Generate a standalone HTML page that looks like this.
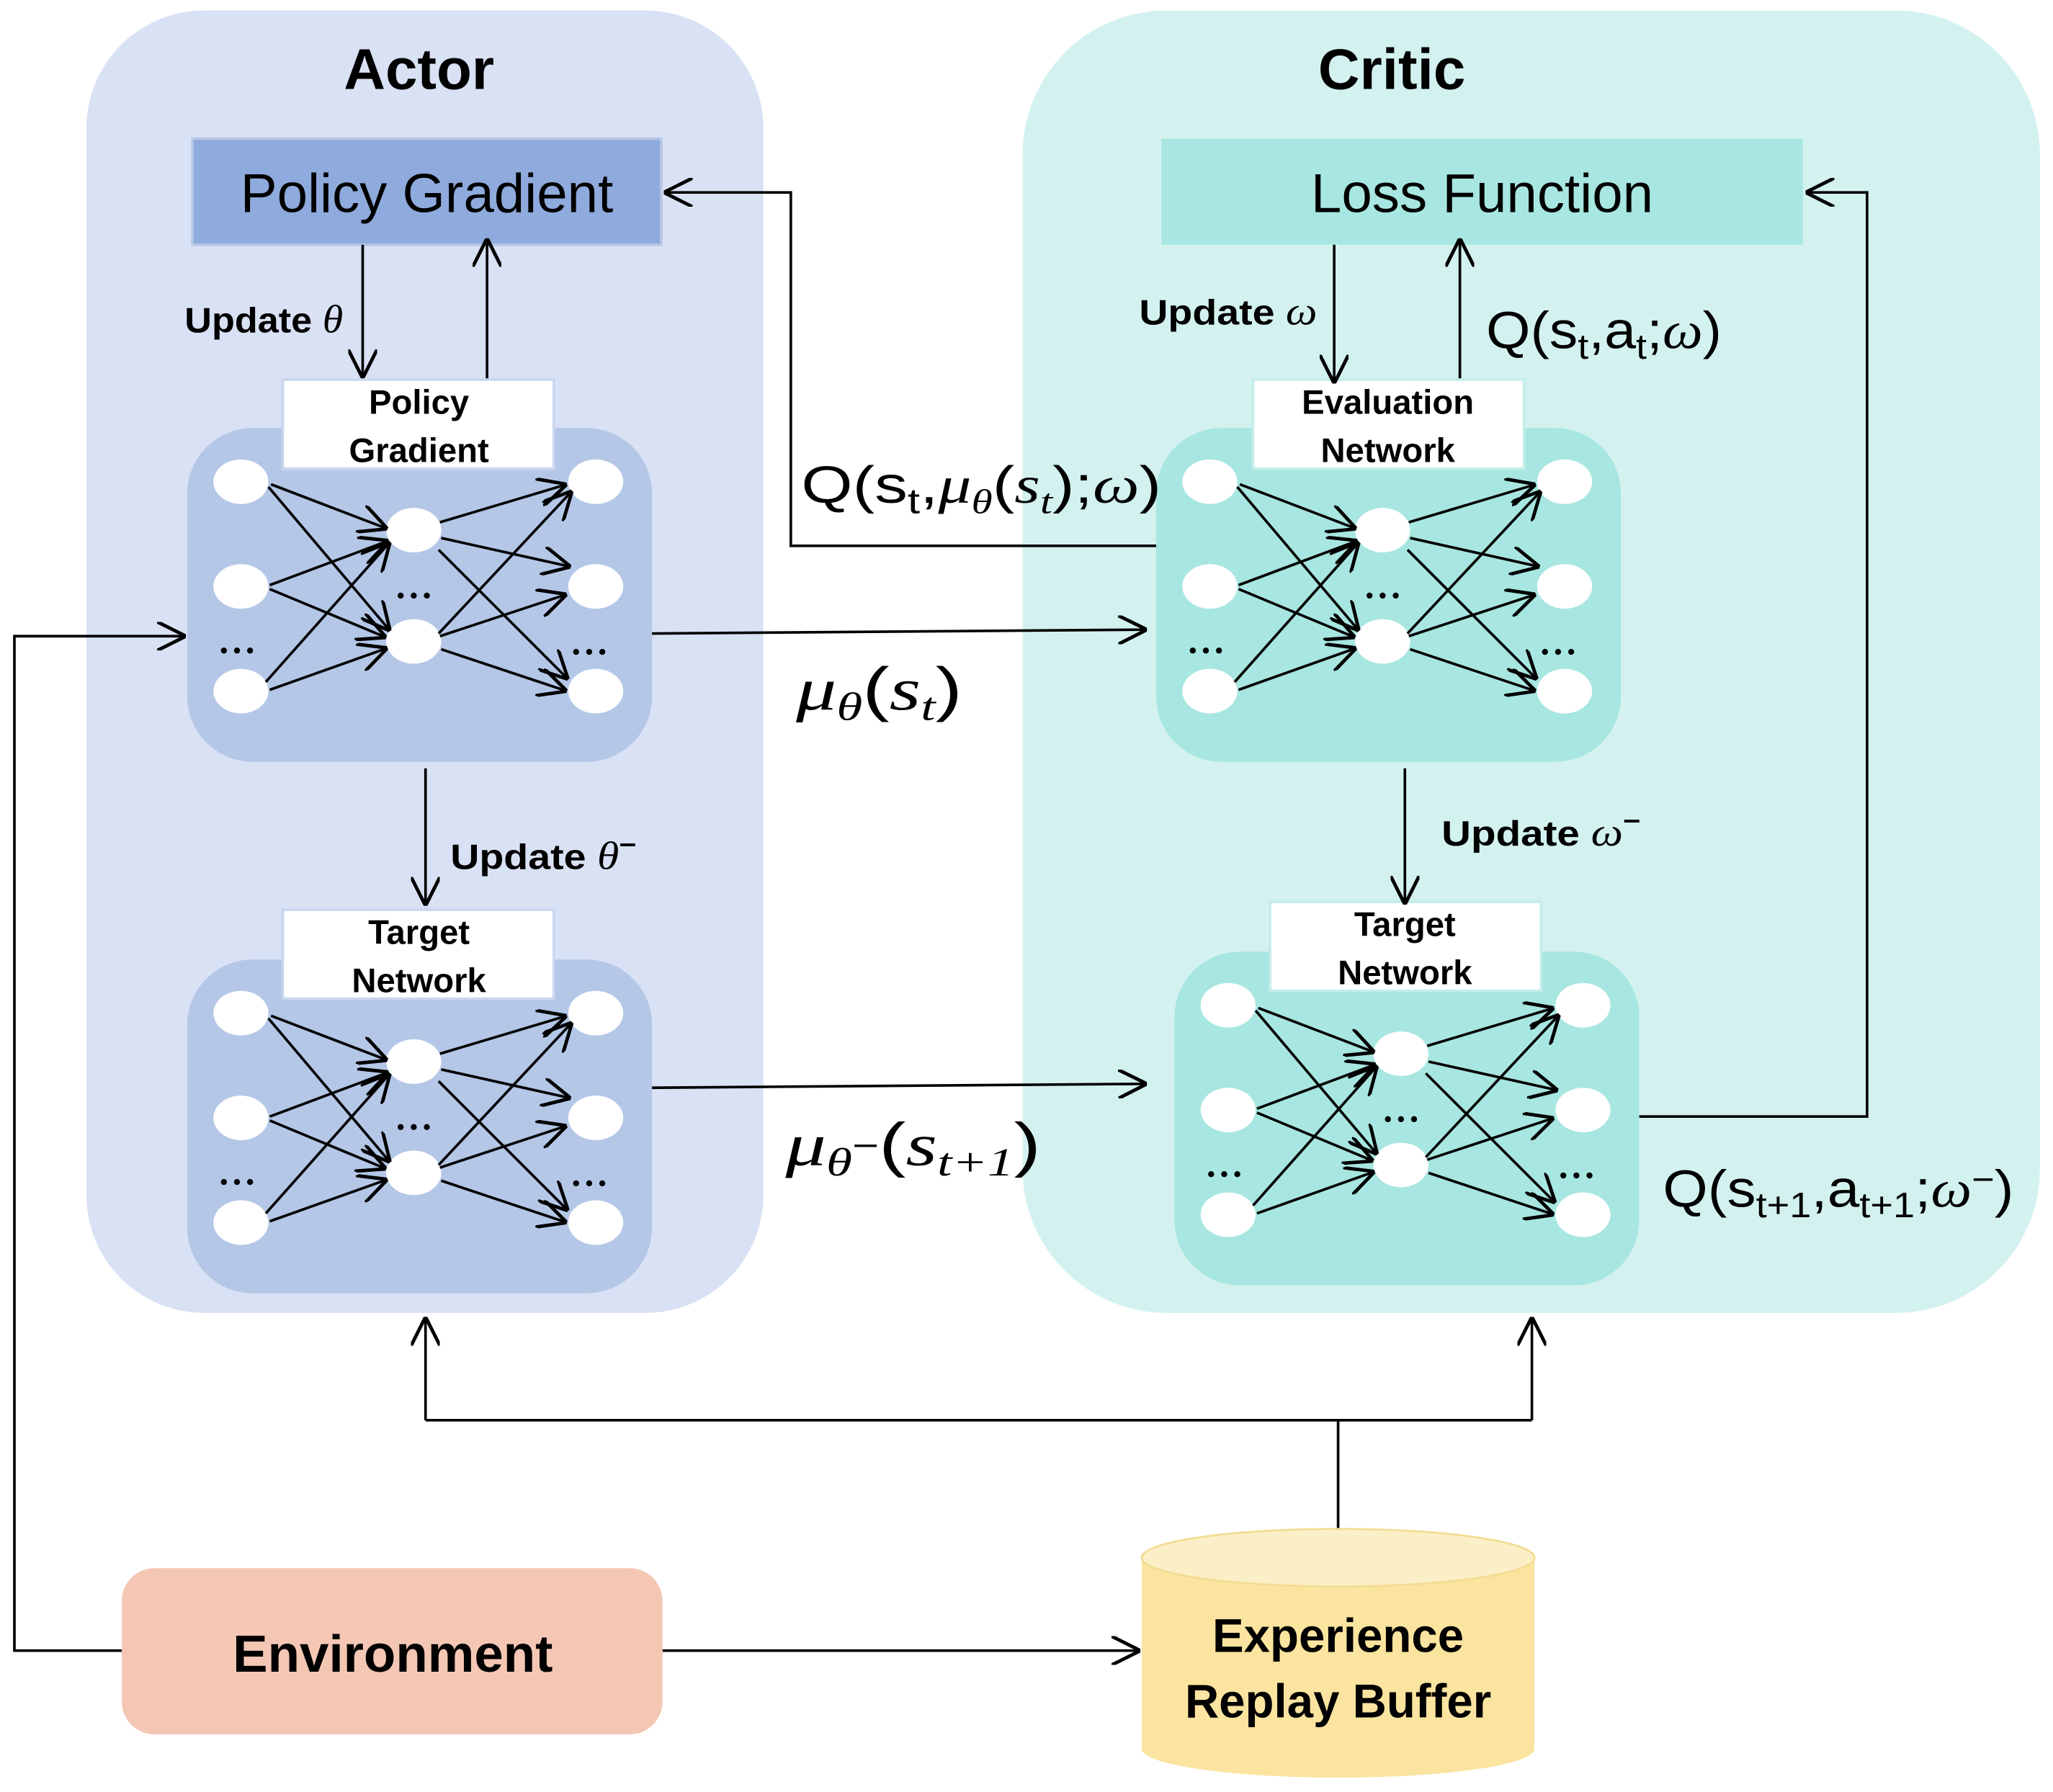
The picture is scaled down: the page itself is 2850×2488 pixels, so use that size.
<!DOCTYPE html>
<html><head><meta charset="utf-8"><style>
html,body{margin:0;padding:0;background:#fff}
svg{display:block}
text{font-family:"Liberation Sans",sans-serif}
.m{font-family:"Liberation Serif",serif;font-style:italic}
</style></head><body>
<svg width="2850" height="2488" viewBox="0 0 1568 1369" preserveAspectRatio="none" xmlns="http://www.w3.org/2000/svg">
<defs>
<marker id="b" markerWidth="22" markerHeight="22" refX="10" refY="5" orient="auto" markerUnits="userSpaceOnUse" viewBox="0 0 10 10">
<path d="M0,0 L10,5 L0,10" fill="none" stroke="#000" stroke-width="1.2"/></marker>
<g id="net">
<g fill="#fff">
<ellipse cx="184" cy="368" rx="21" ry="17"/><ellipse cx="184" cy="448" rx="21" ry="17"/><ellipse cx="184" cy="528" rx="21" ry="17"/>
<ellipse cx="316" cy="405" rx="21" ry="17"/><ellipse cx="316" cy="490" rx="21" ry="17"/>
<ellipse cx="455" cy="368" rx="21" ry="17"/><ellipse cx="455" cy="448" rx="21" ry="17"/><ellipse cx="455" cy="528" rx="21" ry="17"/>
</g>
<g stroke="#000" stroke-width="2" marker-end="url(#b)">
<line x1="207" y1="370" x2="296" y2="404"/><line x1="205" y1="372" x2="298" y2="482"/>
<line x1="206" y1="447" x2="297" y2="413"/><line x1="206" y1="450" x2="295" y2="487"/>
<line x1="203" y1="521" x2="298" y2="414"/><line x1="206" y1="527" x2="296" y2="495"/>
<line x1="336" y1="399" x2="433" y2="370"/><line x1="337" y1="411" x2="436" y2="433"/>
<line x1="335" y1="420" x2="434" y2="519"/><line x1="335" y1="484" x2="437" y2="375"/>
<line x1="336" y1="486" x2="433" y2="454"/><line x1="337" y1="496" x2="433" y2="528"/>
</g>
<g fill="#000"><circle cx="171" cy="497" r="2.3"/><circle cx="181" cy="497" r="2.3"/><circle cx="191" cy="497" r="2.3"/>
<circle cx="306" cy="455" r="2.3"/><circle cx="316" cy="455" r="2.3"/><circle cx="326" cy="455" r="2.3"/>
<circle cx="440" cy="498" r="2.3"/><circle cx="450" cy="498" r="2.3"/><circle cx="460" cy="498" r="2.3"/></g>
</g>
</defs>
<rect width="1568" height="1369" fill="#fff"/>
<rect x="66" y="8" width="517" height="995" rx="90" fill="#d9e1f4"/>
<rect x="781" y="8" width="777" height="995" rx="110" fill="#d3f2ef"/>
<text x="320" y="68" font-size="44" font-weight="bold" text-anchor="middle">Actor</text>
<text x="1063" y="68" font-size="44" font-weight="bold" text-anchor="middle">Critic</text>
<rect x="147" y="106" width="358" height="81" fill="#8faadc" stroke="#b4c7e7" stroke-width="2"/>
<text x="326" y="162" font-size="42" text-anchor="middle">Policy Gradient</text>
<rect x="887" y="106" width="490" height="81" fill="#a8e6e1"/>
<text x="1132" y="162" font-size="42" text-anchor="middle">Loss Function</text>
<rect x="143" y="327" width="355" height="255" rx="50" fill="#b4c7e7"/>
<rect x="143" y="733" width="355" height="255" rx="50" fill="#b4c7e7"/>
<rect x="883" y="327" width="355" height="255" rx="50" fill="#a8e6e1"/>
<rect x="897" y="727" width="355" height="255" rx="50" fill="#a8e6e1"/>
<use href="#net"/>
<use href="#net" transform="translate(0,406)"/>
<use href="#net" transform="translate(740,0)"/>
<use href="#net" transform="translate(754,400)"/>
<g font-size="26" font-weight="bold" text-anchor="middle">
<rect x="216" y="290" width="207" height="68" fill="#fff" stroke="#c9d6ef" stroke-width="2"/>
<text x="320" y="316">Policy</text><text x="320" y="353">Gradient</text>
<rect x="216" y="695" width="207" height="68" fill="#fff" stroke="#c9d6ef" stroke-width="2"/>
<text x="320" y="721">Target</text><text x="320" y="758">Network</text>
<rect x="957" y="290" width="207" height="68" fill="#fff" stroke="#c3ede9" stroke-width="2"/>
<text x="1060" y="316">Evaluation</text><text x="1060" y="353">Network</text>
<rect x="970" y="689" width="207" height="68" fill="#fff" stroke="#c3ede9" stroke-width="2"/>
<text x="1073" y="715">Target</text><text x="1073" y="752">Network</text>
</g>
<g stroke="#000" stroke-width="2" fill="none">
<line x1="277" y1="187" x2="277" y2="289" marker-end="url(#b)"/>
<line x1="372" y1="289" x2="372" y2="182" marker-end="url(#b)"/>
<line x1="1019" y1="187" x2="1019" y2="293" marker-end="url(#b)"/>
<line x1="1115" y1="289" x2="1115" y2="182" marker-end="url(#b)"/>
<polyline points="883,417 604,417 604,147 507,147" marker-end="url(#b)"/>
<line x1="498" y1="484" x2="876" y2="481" marker-end="url(#b)"/>
<line x1="325" y1="587" x2="325" y2="692" marker-end="url(#b)"/>
<line x1="498" y1="831" x2="876" y2="828" marker-end="url(#b)"/>
<line x1="1073" y1="587" x2="1073" y2="691" marker-end="url(#b)"/>
<polyline points="1252,853 1426,853 1426,147 1379,147" marker-end="url(#b)"/>
<polyline points="93,1261 11,1261 11,486 142,486" marker-end="url(#b)"/>
<line x1="506" y1="1261" x2="871" y2="1261" marker-end="url(#b)"/>
<line x1="1022" y1="1168" x2="1022" y2="1085"/>
<line x1="325" y1="1085" x2="1170" y2="1085"/>
<line x1="325" y1="1085" x2="325" y2="1006" marker-end="url(#b)"/>
<line x1="1170" y1="1085" x2="1170" y2="1006" marker-end="url(#b)"/>
</g>
<text x="141" y="254" font-size="27" font-weight="bold" textLength="121" lengthAdjust="spacingAndGlyphs">Update <tspan class="m" font-weight="normal" font-size="30">θ</tspan></text>
<text x="870" y="248" font-size="27" font-weight="bold" font-family="Liberation Serif" textLength="136" lengthAdjust="spacingAndGlyphs">Update <tspan class="m" font-weight="normal" font-size="30">ω</tspan></text>
<text x="344" y="664" font-size="27" font-weight="bold" textLength="142" lengthAdjust="spacingAndGlyphs">Update <tspan class="m" font-weight="normal" font-size="30">θ</tspan><tspan font-size="20" dy="-12">−</tspan></text>
<text x="1101" y="646" font-size="27" font-weight="bold" font-family="Liberation Serif" textLength="152" lengthAdjust="spacingAndGlyphs">Update <tspan class="m" font-weight="normal" font-size="30">ω</tspan><tspan font-size="20" dy="-12">−</tspan></text>
<text x="1135" y="266" font-size="40" textLength="180" lengthAdjust="spacingAndGlyphs">Q(s<tspan font-size="27" dy="8">t</tspan><tspan dy="-8">,a</tspan><tspan font-size="27" dy="8">t</tspan><tspan dy="-8">;</tspan><tspan class="m">ω</tspan>)</text>
<text x="612" y="384" font-size="40" textLength="275" lengthAdjust="spacingAndGlyphs">Q(s<tspan font-size="27" dy="8">t</tspan><tspan dy="-8">,</tspan><tspan class="m">μ</tspan><tspan class="m" font-size="26" dy="8">θ</tspan><tspan dy="-8">(</tspan><tspan class="m">s</tspan><tspan class="m" font-size="27" dy="8">t</tspan><tspan dy="-8">);</tspan><tspan class="m">ω</tspan>)</text>
<text x="608" y="542" font-size="46" textLength="127" lengthAdjust="spacingAndGlyphs"><tspan class="m">μ</tspan><tspan class="m" font-size="30" dy="8">θ</tspan><tspan dy="-8">(</tspan><tspan class="m">s</tspan><tspan class="m" font-size="30" dy="8">t</tspan><tspan dy="-8">)</tspan></text>
<text x="600" y="890" font-size="46" textLength="195" lengthAdjust="spacingAndGlyphs"><tspan class="m">μ</tspan><tspan class="m" font-size="30" dy="8">θ</tspan><tspan font-size="26" dy="-14">−</tspan><tspan dy="6">(</tspan><tspan class="m">s</tspan><tspan class="m" font-size="30" dy="8">t+1</tspan><tspan dy="-8">)</tspan></text>
<text x="1270" y="922" font-size="40" textLength="268" lengthAdjust="spacingAndGlyphs">Q(s<tspan font-size="27" dy="8">t+1</tspan><tspan dy="-8">,a</tspan><tspan font-size="27" dy="8">t+1</tspan><tspan dy="-8">;</tspan><tspan class="m">ω</tspan><tspan font-size="27" dy="-12">−</tspan><tspan dy="12">)</tspan></text>
<rect x="93" y="1198" width="413" height="127" rx="25" fill="#f4c7b4"/>
<text x="300" y="1277" font-size="40" font-weight="bold" text-anchor="middle">Environment</text>
<path d="M872,1190 L872,1336 A150,22 0 0 0 1172,1336 L1172,1190 Z" fill="#fae49f"/>
<ellipse cx="1022" cy="1190" rx="150" ry="22" fill="#fbefc7" stroke="#f3dc92" stroke-width="1.5"/>
<text x="1022" y="1262" font-size="36" font-weight="bold" text-anchor="middle">Experience</text>
<text x="1022" y="1312" font-size="36" font-weight="bold" text-anchor="middle">Replay Buffer</text>
</svg>
</body></html>
